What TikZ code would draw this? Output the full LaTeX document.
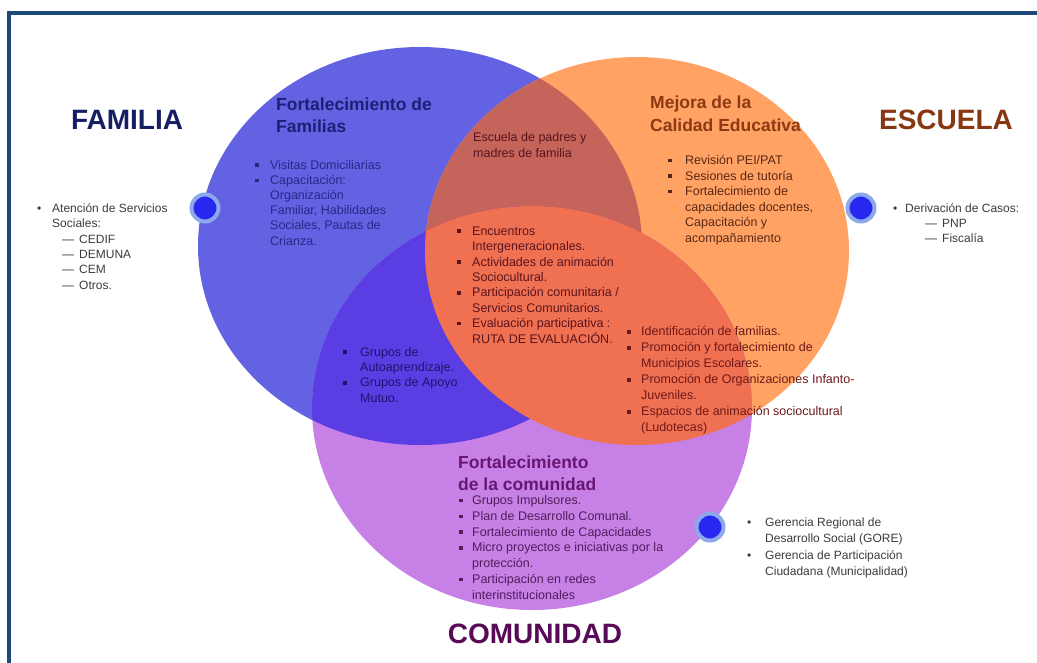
\documentclass[tikz,border=0pt]{standalone}
\usepackage{fontspec}
\setmainfont{Liberation Sans}
\usepackage{tikz}
\usetikzlibrary{positioning}

% circle and overlap colours
\definecolor{famcol}{RGB}{98,98,226}
\definecolor{esccol}{RGB}{255,162,100}
\definecolor{comcol}{RGB}{198,128,230}
\definecolor{famesc}{RGB}{196,100,90}
\definecolor{famcom}{RGB}{90,62,228}
\definecolor{esccom}{RGB}{240,112,82}
\definecolor{allthree}{RGB}{210,85,85}
\definecolor{framecol}{RGB}{31,73,125}
\definecolor{dotcol}{RGB}{40,40,240}
\definecolor{ringcol}{RGB}{140,170,235}
% text colours
\definecolor{famtitle}{RGB}{22,30,100}
\definecolor{famhead}{RGB}{28,32,118}
\definecolor{famtext}{RGB}{40,40,135}
\definecolor{esctitle}{RGB}{135,55,18}
\definecolor{eschead}{RGB}{140,58,20}
\definecolor{esctext}{RGB}{90,40,20}
\definecolor{midtext}{RGB}{90,20,30}
\definecolor{fctext}{RGB}{30,20,110}
\definecolor{ectext}{RGB}{110,25,25}
\definecolor{comtitle}{RGB}{88,10,88}
\definecolor{comhead}{RGB}{105,22,115}
\definecolor{comtext}{RGB}{80,30,90}
\definecolor{outtext}{RGB}{60,60,60}

\tikzstyle{bigtitle}=[font=\fontsize{28}{30}\selectfont\bfseries,inner sep=0pt]
\tikzstyle{subtitle}=[font=\fontsize{17.5}{22}\selectfont\bfseries,align=left,anchor=north west,inner sep=0pt]
\tikzstyle{items}=[font=\fontsize{12.5}{15.4}\selectfont,anchor=north west,inner sep=0pt]
\tikzstyle{outside}=[font=\fontsize{12}{15.4}\selectfont,anchor=north west,inner sep=0pt,text=outtext]
\tikzstyle{marker}=[circle,fill=dotcol,draw=ringcol,line width=4pt,minimum size=27pt,inner sep=0pt]

\newcommand{\sqb}{\rule[2.2pt]{3.6pt}{3.6pt}}
\newcommand{\sqi}[1]{\makebox[#1][l]{\sqb}}
\newcommand{\dti}[1]{\makebox[#1][l]{\textbullet}}
\newcommand{\famellipse}{(420,246) ellipse [x radius=222pt, y radius=199pt]}
\newcommand{\escellipse}{(637,251) ellipse [x radius=212pt, y radius=194pt]}
\newcommand{\comellipse}{(532,408) ellipse [x radius=220pt, y radius=202pt]}

\begin{document}
\begin{tikzpicture}[x=1pt, y=-1pt]
	\useasboundingbox (0,0) rectangle (1037,662);
	\fill[white] (0,0) rectangle (1037,662);
	\draw[framecol,line width=4pt] (9,690) -- (9,13) -- (1060,13);

	%circles
	\fill[famcol] \famellipse;
	\fill[esccol] \escellipse;
	\fill[comcol] \comellipse;
	%overlaps
	\begin{scope}
		\clip \famellipse;
		\fill[famesc] \escellipse;
		\fill[famcom] \comellipse;
		\clip \escellipse;
		\fill[allthree] \comellipse;
	\end{scope}
	\begin{scope}
		\clip \escellipse;
		\fill[esccom] \comellipse;
	\end{scope}

	%markers
	\node[marker] (famdot) at (205,208) {};
	\node[marker] (escdot) at (861,208) {};
	\node[marker] (comdot) at (710,527) {};

	%titles
	\node[bigtitle,text=famtitle] (familia) at (127,120) {FAMILIA};
	\node[bigtitle,text=esctitle] (escuela) at (946,120) {ESCUELA};
	\node[bigtitle,text=comtitle] (comunidad) at (535,634) {COMUNIDAD};

	\node[subtitle,text=famhead] (famhead) at (276,98) {Fortalecimiento de\\Familias};
	\node[subtitle,text=eschead,font=\fontsize{17.5}{23}\selectfont\bfseries] (eschead) at (650,96) {Mejora de la\\Calidad Educativa};
	\node[subtitle,text=comhead] (comhead) at (458,456) {Fortalecimiento\\de la comunidad};

	%family
	\node[items,text=famtext,font=\fontsize{12.5}{15.2}\selectfont] (famlist) at (255,158.3) {\begin{tabular}{@{}l@{}l@{}}
		\sqi{15pt} & Visitas Domiciliarias\\
		\sqi{15pt} & Capacitación:\\
		 & Organización\\
		 & Familiar, Habilidades\\
		 & Sociales, Pautas de\\
		 & Crianza.
	\end{tabular}};
	\node[outside] (famout) at (37,201.3) {\begin{tabular}{@{}l@{}l@{}}
		\dti{15pt} & Atención de Servicios\\
		 & Sociales:\\
		 & \hspace{10pt}—\hspace{5pt}CEDIF\\
		 & \hspace{10pt}—\hspace{5pt}DEMUNA\\
		 & \hspace{10pt}—\hspace{5pt}CEM\\
		 & \hspace{10pt}—\hspace{5pt}Otros.
	\end{tabular}};

	%school
	\node[items,text=esctext,font=\fontsize{12.5}{15.6}\selectfont] (esclist) at (668,153.3) {\begin{tabular}{@{}l@{}l@{}}
		\sqi{17pt} & Revisión PEI/PAT\\
		\sqi{17pt} & Sesiones de tutoría\\
		\sqi{17pt} & Fortalecimiento de\\
		 & capacidades docentes,\\
		 & Capacitación y\\
		 & acompañamiento
	\end{tabular}};
	\node[outside,font=\fontsize{12}{15}\selectfont] (escout) at (893,201.3) {\begin{tabular}{@{}l@{}l@{}}
		\dti{12pt} & Derivación de Casos:\\
		 & \hspace{20pt}—\hspace{5pt}PNP\\
		 & \hspace{20pt}—\hspace{5pt}Fiscalía
	\end{tabular}};

	%overlaps text
	\node[items,text=midtext,font=\fontsize{12.5}{16}\selectfont] (padres) at (473,130.3) {\begin{tabular}{@{}l@{}}
		Escuela de padres y\\
		madres de familia
	\end{tabular}};
	\node[items,text=midtext] (midlist) at (457,224.3) {\begin{tabular}{@{}l@{}l@{}}
		\sqi{15pt} & Encuentros\\
		 & Intergeneracionales.\\
		\sqi{15pt} & Actividades de animación\\
		 & Sociocultural.\\
		\sqi{15pt} & Participación comunitaria /\\
		 & Servicios Comunitarios.\\
		\sqi{15pt} & Evaluación participativa :\\
		 & RUTA DE EVALUACIÓN.
	\end{tabular}};
	\node[items,text=fctext,font=\fontsize{12.5}{15.3}\selectfont] (fclist) at (343,345.3) {\begin{tabular}{@{}l@{}l@{}}
		\sqi{17pt} & Grupos de\\
		 & Autoaprendizaje.\\
		\sqi{17pt} & Grupos de Apoyo\\
		 & Mutuo.
	\end{tabular}};
	\node[items,text=ectext,font=\fontsize{12.5}{16}\selectfont] (eclist) at (627,324.3) {\begin{tabular}{@{}l@{}l@{}}
		\sqi{14pt} & Identificación de familias.\\
		\sqi{14pt} & Promoción y fortalecimiento de\\
		 & Municipios Escolares.\\
		\sqi{14pt} & Promoción de Organizaciones Infanto-\\
		 & Juveniles.\\
		\sqi{14pt} & Espacios de animación sociocultural\\
		 & (Ludotecas)
	\end{tabular}};

	%community
	\node[items,text=comtext,font=\fontsize{12.5}{15.8}\selectfont] (comlist) at (459,493.3) {\begin{tabular}{@{}l@{}l@{}}
		\sqi{13pt} & Grupos Impulsores.\\
		\sqi{13pt} & Plan de Desarrollo Comunal.\\
		\sqi{13pt} & Fortalecimiento de Capacidades\\
		\sqi{13pt} & Micro proyectos e iniciativas por la\\
		 & protección.\\
		\sqi{13pt} & Participación en redes\\
		 & interinstitucionales
	\end{tabular}};
	\node[outside,font=\fontsize{12}{16.5}\selectfont] (comout) at (747,514.3) {\begin{tabular}{@{}l@{}l@{}}
		\dti{18pt} & Gerencia Regional de\\
		 & Desarrollo Social (GORE)\\
		\dti{18pt} & Gerencia de Participación\\
		 & Ciudadana (Municipalidad)
	\end{tabular}};
\end{tikzpicture}
\end{document}
